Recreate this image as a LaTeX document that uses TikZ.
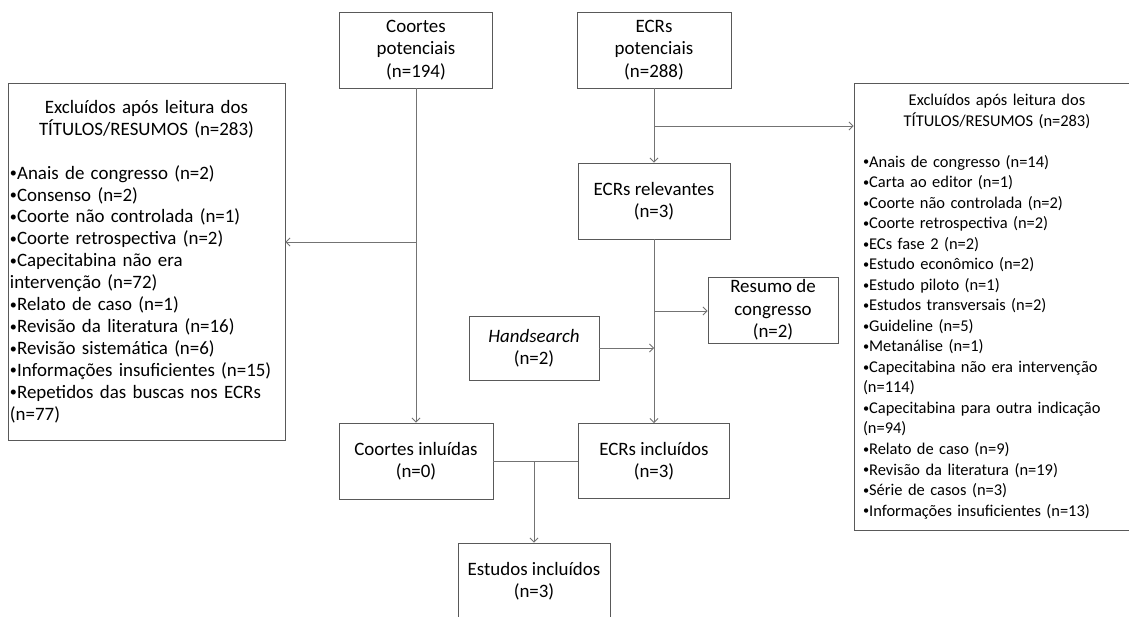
\documentclass[tikz,border=0pt]{standalone}
\usepackage{fontspec}
\setmainfont{Carlito}
\usetikzlibrary{arrows.meta}
\newcommand\mybul{\raisebox{0.15ex}{\scalebox{0.75}{•}}}
\tikzset{
  boxc/.style={draw=black!65, line width=0.9bp, inner sep=0pt, align=center,
    font=\fontsize{19}{22.5}\selectfont},
  listl/.style={draw=black!65, line width=0.9bp, inner ysep=0pt, inner xsep=0pt, align=left,
    font=\fontsize{19}{22}\selectfont},
  listr/.style={draw=black!65, line width=0.9bp, inner ysep=0pt, inner xsep=0pt, align=left,
    font=\fontsize{16.5}{20.6}\selectfont},
  conn/.style={draw=black!55, line width=0.8bp},
  arr/.style={conn, -{Straight Barb[length=4bp,width=8bp]}}
}
\begin{document}
\begin{tikzpicture}[x=1bp,y=-1bp]
\useasboundingbox (0,0) rectangle (1129,617);
\clip (0,0) rectangle (1129,617);
\fill[white] (0,0) rectangle (1129,617);

\node[boxc, minimum width=153bp, minimum height=76bp] (cp) at (416,50) {Coortes\\potenciais\\(n=194)};
\node[boxc, minimum width=154bp, minimum height=76bp] (ep) at (654,50) {ECRs\\potenciais\\(n=288)};
\node[boxc, minimum width=152bp, minimum height=76bp] (er) at (654,201) {ECRs relevantes\\(n=3)};
\node[boxc, minimum width=130bp, minimum height=66bp] (rc) at (773,310) {Resumo de\\congresso\\(n=2)};
\node[boxc, minimum width=130bp, minimum height=64bp] (hs) at (534,348) {\textit{Handsearch}\\(n=2)};
\node[boxc, minimum width=154bp, minimum height=76bp] (ci) at (416,461) {Coortes inluídas\\(n=0)};
\node[boxc, minimum width=151bp, minimum height=75bp] (ei) at (654,461) {ECRs incluídos\\(n=3)};
\node[boxc, minimum width=152bp, minimum height=77bp] (si) at (534,581.5) {Estudos incluídos\\(n=3)};

\node[listl, minimum width=277bp, minimum height=357bp, text width=273bp] (lb) at (146.5,261.5) {%
{\centering Excluídos após leitura dos\\TÍTULOS/RESUMOS (n=283)\par}
\vspace{\baselineskip}
\mybul Anais de congresso (n=2)\\
\mybul Consenso (n=2)\\
\mybul Coorte não controlada (n=1)\\
\mybul Coorte retrospectiva (n=2)\\
\mybul Capecitabina não era\\
intervenção (n=72)\\
\mybul Relato de caso (n=1)\\
\mybul Revisão da literatura (n=16)\\
\mybul Revisão sistemática (n=6)\\
\mybul Informações insuficientes (n=15)\\
\mybul Repetidos das buscas nos ECRs\\
(n=77)\par\vspace*{12pt}};

\node[listr, minimum width=286bp, minimum height=447bp, text width=268bp] (rb) at (997,306.5) {%
{\centering Excluídos após leitura dos\\TÍTULOS/RESUMOS (n=283)\par}
\vspace{\baselineskip}
\mybul Anais de congresso (n=14)\\
\mybul Carta ao editor (n=1)\\
\mybul Coorte não controlada (n=2)\\
\mybul Coorte retrospectiva (n=2)\\
\mybul ECs fase 2 (n=2)\\
\mybul Estudo econômico (n=2)\\
\mybul Estudo piloto (n=1)\\
\mybul Estudos transversais (n=2)\\
\mybul Guideline (n=5)\\
\mybul Metanálise (n=1)\\
\mybul Capecitabina não era intervenção\\
(n=114)\\
\mybul Capecitabina para outra indicação\\
(n=94)\\
\mybul Relato de caso (n=9)\\
\mybul Revisão da literatura (n=19)\\
\mybul Série de casos (n=3)\\
\mybul Informações insuficientes (n=13)};

\coordinate (j1) at (416,242);
\coordinate (j2) at (654,126);
\coordinate (j3) at (654,311);
\coordinate (j4) at (654,348);
\coordinate (j5) at (534,461);

\draw[arr] (cp.south) -- (ci.north);
\draw[arr] (j1) -- (j1 -| lb.east);
\draw[arr] (ep.south) -- (er.north);
\draw[arr] (j2) -- (j2 -| rb.west);
\draw[arr] (er.south) -- (ei.north);
\draw[arr] (j3) -- (j3 -| rc.west);
\draw[arr] (hs.east |- j4) -- (j4);
\draw[conn] (ci.east |- j5) -- (ei.west |- j5);
\draw[arr] (j5) -- (si.north);
\end{tikzpicture}
\end{document}
